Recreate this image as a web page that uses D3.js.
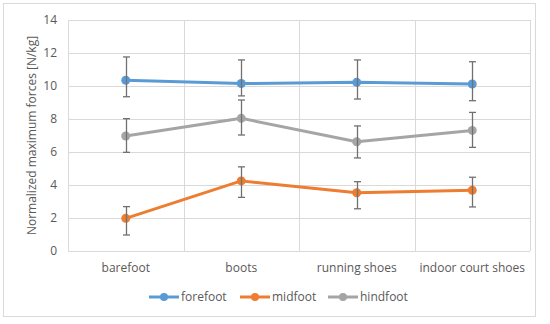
<!DOCTYPE html>
<html>
<head>
<meta charset="utf-8">
<script src="https://cdn.jsdelivr.net/npm/d3@7/dist/d3.min.js"></script>
<style>
  body { margin: 0; background: #fff; }
  text { font-family: "Open Sans", "Liberation Sans", sans-serif; fill: #595959; }
</style>
</head>
<body>
<svg id="chart" width="550" height="324"></svg>
<script>
// data
const categories = ['barefoot', 'boots', 'running shoes', 'indoor court shoes']
const seriesNames = ['forefoot', 'midfoot', 'hindfoot']
const colors = ['#5B9BD5', '#ED7D31', '#A5A5A5']

const forefoot = [10.35, 10.15, 10.22, 10.12]
const forefootHi = [11.76, 11.58, 11.58, 11.47]
const forefootLo = [9.35, 9.4, 9.21, 9.11]

const midfoot = [1.98, 4.25, 3.53, 3.68]
const midfootHi = [2.69, 5.1, 4.2, 4.47]
const midfootLo = [0.97, 3.25, 2.56, 2.67]

const hindfoot = [6.97, 8.04, 6.62, 7.31]
const hindfootHi = [8.02, 9.15, 7.58, 8.4]
const hindfootLo = [5.98, 7.03, 5.64, 6.28]

const yTicks = [0, 2, 4, 6, 8, 10, 12, 14]

const series = [
  { name: seriesNames[0], values: forefoot, hi: forefootHi, lo: forefootLo },
  { name: seriesNames[1], values: midfoot, hi: midfootHi, lo: midfootLo },
  { name: seriesNames[2], values: hindfoot, hi: hindfootHi, lo: hindfootLo }
]

let svg = d3.select('#chart')
let margin = { left: 68, right: 20, top: 20, bottom: 73 }
let width = 550, height = 324
let innerW = 530 - margin.left, innerH = 251 - margin.top

// chart frame
svg.append('rect')
  .attr('x', 3.5).attr('y', 3.5)
  .attr('width', 532).attr('height', 313)
  .attr('fill', '#fff').attr('stroke', '#D9D9D9')

let g = svg.append('g').attr('transform', `translate(${margin.left},${margin.top})`)

let x = d3.scaleBand().domain(categories).range([0, innerW])
let y = d3.scaleLinear().domain([0, 14]).range([innerH, 0])
let color = d3.scaleOrdinal().domain(seriesNames).range(colors)

// horizontal gridlines
g.append('g')
  .selectAll('line')
  .data(yTicks)
  .enter().append('line')
  .attr('x1', 0).attr('x2', innerW)
  .attr('y1', d => Math.round(y(d)) + 0.5).attr('y2', d => Math.round(y(d)) + 0.5)
  .attr('stroke', '#D9D9D9')

// vertical gridlines at category boundaries
let bounds = categories.map(c => x(c)).concat([innerW])
g.append('g')
  .selectAll('line')
  .data(bounds)
  .enter().append('line')
  .attr('x1', d => Math.round(d) + 0.5).attr('x2', d => Math.round(d) + 0.5)
  .attr('y1', 0).attr('y2', innerH)
  .attr('stroke', '#D9D9D9')

// y tick labels
g.append('g')
  .selectAll('text')
  .data(yTicks)
  .enter().append('text')
  .attr('x', -11).attr('y', d => y(d))
  .attr('dy', '0.35em')
  .attr('text-anchor', 'end')
  .style('font-size', '12px')
  .text(d => d)

// x category labels
g.append('g')
  .selectAll('text')
  .data(categories)
  .enter().append('text')
  .attr('x', d => x(d) + x.bandwidth() / 2)
  .attr('y', innerH + 17)
  .attr('dy', '0.35em')
  .attr('text-anchor', 'middle')
  .style('font-size', '12px')
  .text(d => d)

// y axis title
svg.append('text')
  .attr('transform', `translate(32,${margin.top + innerH / 2}) rotate(-90)`)
  .attr('text-anchor', 'middle')
  .attr('dy', '0.35em')
  .style('font-size', '12px')
  .text('Normalized maximum forces [N/kg]')

let cx = c => x(c) + x.bandwidth() / 2

let line = d3.line()
  .x((d, i) => cx(categories[i]))
  .y(d => y(d))

// lines
g.append('g')
  .selectAll('path')
  .data(series)
  .enter().append('path')
  .attr('d', d => line(d.values))
  .attr('fill', 'none')
  .attr('stroke', d => color(d.name))
  .attr('stroke-width', 3)
  .attr('stroke-linejoin', 'round')

// markers
series.forEach(s => {
  g.append('g')
    .selectAll('circle')
    .data(s.values)
    .enter().append('circle')
    .attr('cx', (d, i) => cx(categories[i]))
    .attr('cy', d => y(d))
    .attr('r', 4.5)
    .attr('fill', color(s.name))
})

// error bars
series.forEach(s => {
  let eb = g.append('g').attr('stroke', '#707070').attr('stroke-width', 1.3)
  categories.forEach((c, i) => {
    let px = Math.round(cx(c)) + 0.5
    eb.append('line')
      .attr('x1', px).attr('x2', px)
      .attr('y1', y(s.hi[i])).attr('y2', y(s.lo[i]))
    ;[s.hi[i], s.lo[i]].forEach(v => {
      eb.append('line')
        .attr('x1', px - 3.5).attr('x2', px + 3.5)
        .attr('y1', y(v)).attr('y2', y(v))
    })
  })
})

// legend
let legendX = [149, 240, 328]
let legend = svg.append('g')
  .selectAll('g')
  .data(seriesNames)
  .enter().append('g')
  .attr('transform', (d, i) => `translate(${legendX[i]},297)`)

legend.append('line')
  .attr('x1', 0).attr('x2', 30)
  .attr('stroke', d => color(d)).attr('stroke-width', 3)
legend.append('circle')
  .attr('cx', 15).attr('r', 4)
  .attr('fill', d => color(d))
legend.append('text')
  .attr('x', 32).attr('dy', '0.35em')
  .style('font-size', '12px')
  .text(d => d)
</script>
</body>
</html>
